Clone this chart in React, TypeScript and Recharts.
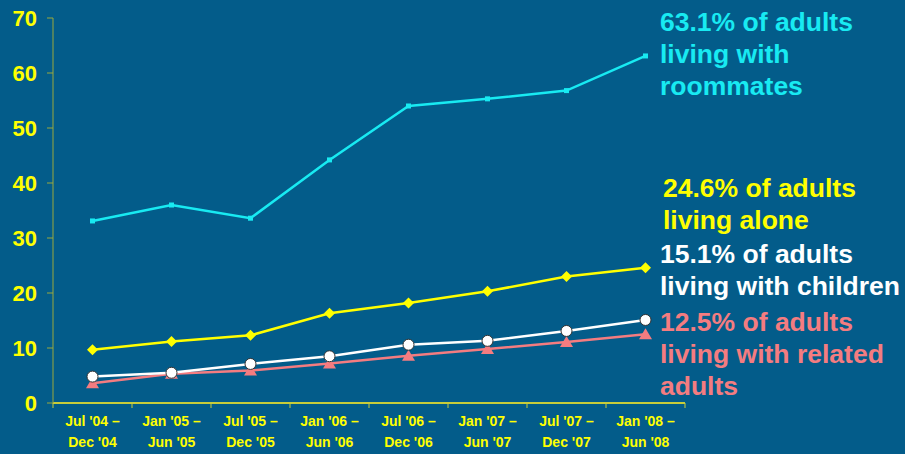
import React from "react";
import { LineChart, Line, XAxis, YAxis } from "recharts";

const periods = [
  "Jul '04 – Dec '04",
  "Jan '05 – Jun '05",
  "Jul '05 – Dec '05",
  "Jan '06 – Jun '06",
  "Jul '06 – Dec '06",
  "Jan '07 – Jun '07",
  "Jul '07 – Dec '07",
  "Jan '08 – Jun '08",
];
const roommates = [33.1, 36.0, 33.6, 44.2, 54.0, 55.3, 56.8, 63.1];
const alone = [9.7, 11.2, 12.3, 16.3, 18.2, 20.3, 23.0, 24.6];
const children = [4.8, 5.5, 7.1, 8.5, 10.6, 11.3, 13.1, 15.1];
const related = [3.6, 5.3, 5.9, 7.2, 8.6, 9.8, 11.1, 12.5];
const yTicks = [0, 10, 20, 30, 40, 50, 60, 70];

const BG = "#035C8A";
const CYAN = "#18EAF2";
const YELLOW = "#FFFF00";
const PINK = "#F47C80";
const AXIS = "#C8CC3A";
const FONT = "'Liberation Sans', Arial, sans-serif";

const data = periods.map((p, i) => ({
  period: p,
  roommates: roommates[i],
  alone: alone[i],
  children: children[i],
  related: related[i],
}));

// two-line period label + tick mark on the band edges
function PeriodTick(props: any) {
  const { x, y, payload, index } = props;
  const off = payload.offset ?? 0;
  const [a, b] = String(payload.value).split(" – ");
  const axisY = y - 8;
  return (
    <g>
      <line x1={x - off} y1={axisY} x2={x - off} y2={axisY + 5} stroke={AXIS} />
      {index === periods.length - 1 && (
        <line x1={x + off} y1={axisY} x2={x + off} y2={axisY + 5} stroke={AXIS} />
      )}
      <text x={x} y={y + 15} textAnchor="middle" fill={YELLOW} fontSize={14} fontWeight="bold" fontFamily={FONT}>
        <tspan x={x}>{a} –</tspan>
        <tspan x={x} dy={21}>{b}</tspan>
      </text>
    </g>
  );
}

function Square(props: any) {
  const { cx, cy } = props;
  return <rect x={cx - 2.5} y={cy - 2.5} width={5} height={5} fill={CYAN} />;
}

function Diamond(props: any) {
  const { cx, cy } = props;
  const r = 5.5;
  return <polygon points={`${cx},${cy - r} ${cx + r},${cy} ${cx},${cy + r} ${cx - r},${cy}`} fill={YELLOW} />;
}

function Circle(props: any) {
  const { cx, cy } = props;
  return <circle cx={cx} cy={cy} r={5.5} fill="#ffffff" stroke="#333333" strokeWidth={1} />;
}

function Triangle(props: any) {
  const { cx, cy } = props;
  return <polygon points={`${cx},${cy - 6} ${cx + 6.5},${cy + 5} ${cx - 6.5},${cy + 5}`} fill={PINK} />;
}

const labelStyle: React.CSSProperties = {
  position: "absolute",
  fontFamily: FONT,
  fontWeight: "bold",
  fontSize: 26.5,
  lineHeight: "32px",
  whiteSpace: "nowrap",
};

export default function App() {
  return (
    <div style={{ position: "absolute", left: 0, top: 0, width: 905, height: 454, background: BG, overflow: "hidden" }}>
      <LineChart width={905} height={454} data={data} margin={{ top: 18, right: 220, bottom: 0, left: 0 }}>
        <XAxis
          dataKey="period"
          scale="band"
          height={51}
          interval={0}
          axisLine={{ stroke: AXIS, strokeWidth: 2 }}
          tickLine={false}
          tick={<PeriodTick />}
        />
        <YAxis
          domain={[0, 70]}
          ticks={yTicks}
          width={53}
          axisLine={{ stroke: "#9AA83C" }}
          tickLine={{ stroke: "#9AA83C" }}
          tickSize={6}
          tickMargin={10}
          tick={{ fill: YELLOW, fontSize: 22, fontWeight: "bold", fontFamily: FONT }}
        />
        <Line dataKey="roommates" stroke={CYAN} strokeWidth={2.5} dot={<Square />} isAnimationActive={false} />
        <Line dataKey="alone" stroke={YELLOW} strokeWidth={2.5} dot={<Diamond />} isAnimationActive={false} />
        <Line dataKey="related" stroke={PINK} strokeWidth={2.5} dot={<Triangle />} isAnimationActive={false} />
        <Line dataKey="children" stroke="#ffffff" strokeWidth={2.5} dot={<Circle />} isAnimationActive={false} />
      </LineChart>
      <div style={{ ...labelStyle, color: CYAN, left: 660, top: 6 }}>
        63.1% of adults<br />living with<br />roommates
      </div>
      <div style={{ ...labelStyle, color: YELLOW, left: 663, top: 172 }}>
        24.6% of adults<br />living alone
      </div>
      <div style={{ ...labelStyle, color: "#ffffff", left: 660, top: 238 }}>
        15.1% of adults<br />living with children
      </div>
      <div style={{ ...labelStyle, color: PINK, left: 660, top: 306 }}>
        12.5% of adults<br />living with related<br />adults
      </div>
    </div>
  );
}
